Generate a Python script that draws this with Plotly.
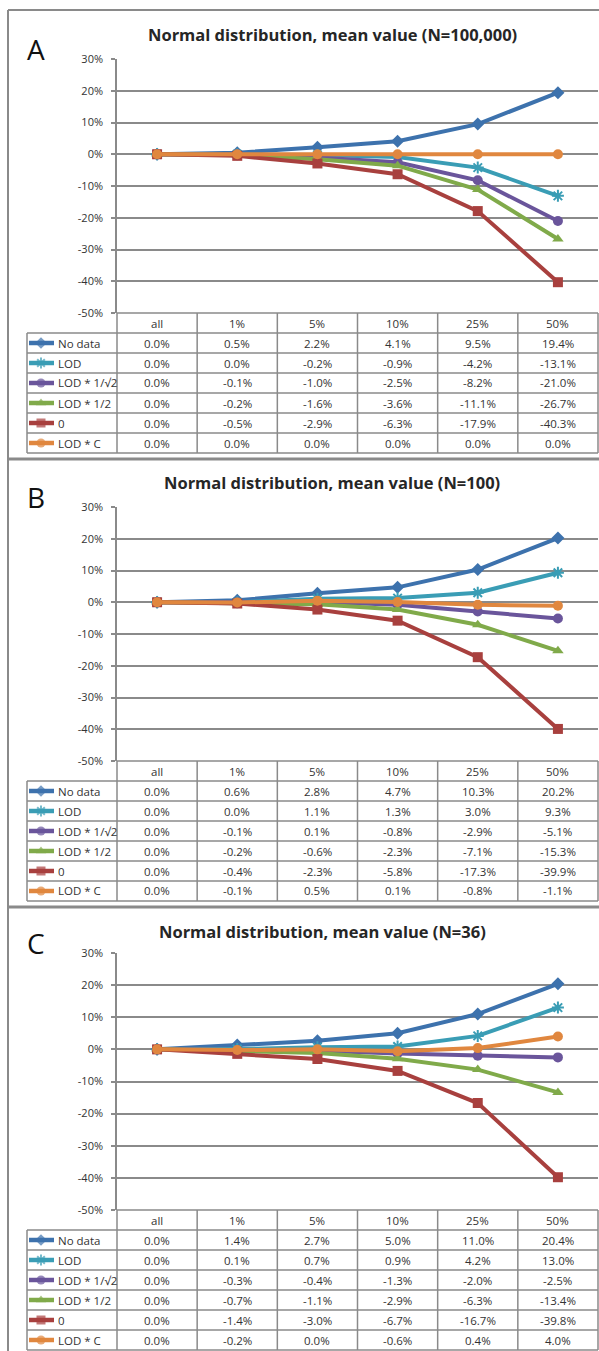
import plotly.graph_objects as go

W, H = 599, 1351

categories = ["all", "1%", "5%", "10%", "25%", "50%"]
series_names = ["No data", "LOD", "LOD * 1/\u221a2", "LOD * 1/2", "0", "LOD * C"]
panel_letters = ["A", "B", "C"]
panel_titles = [
    "Normal distribution, mean value (N=100,000)",
    "Normal distribution, mean value (N=100)",
    "Normal distribution, mean value (N=36)",
]
y_ticks = [30, 20, 10, 0, -10, -20, -30, -40, -50]

# Panel A (N=100,000)
a_no_data = [0.0, 0.5, 2.2, 4.1, 9.5, 19.4]
a_lod = [0.0, 0.0, -0.2, -0.9, -4.2, -13.1]
a_lod_sqrt2 = [0.0, -0.1, -1.0, -2.5, -8.2, -21.0]
a_lod_half = [0.0, -0.2, -1.6, -3.6, -11.1, -26.7]
a_zero = [0.0, -0.5, -2.9, -6.3, -17.9, -40.3]
a_lod_c = [0.0, 0.0, 0.0, 0.0, 0.0, 0.0]

# Panel B (N=100)
b_no_data = [0.0, 0.6, 2.8, 4.7, 10.3, 20.2]
b_lod = [0.0, 0.0, 1.1, 1.3, 3.0, 9.3]
b_lod_sqrt2 = [0.0, -0.1, 0.1, -0.8, -2.9, -5.1]
b_lod_half = [0.0, -0.2, -0.6, -2.3, -7.1, -15.3]
b_zero = [0.0, -0.4, -2.3, -5.8, -17.3, -39.9]
b_lod_c = [0.0, -0.1, 0.5, 0.1, -0.8, -1.1]

# Panel C (N=36)
c_no_data = [0.0, 1.4, 2.7, 5.0, 11.0, 20.4]
c_lod = [0.0, 0.1, 0.7, 0.9, 4.2, 13.0]
c_lod_sqrt2 = [0.0, -0.3, -0.4, -1.3, -2.0, -2.5]
c_lod_half = [0.0, -0.7, -1.1, -2.9, -6.3, -13.4]
c_zero = [0.0, -1.4, -3.0, -6.7, -16.7, -39.8]
c_lod_c = [0.0, -0.2, 0.0, -0.6, 0.4, 4.0]

panels = [
    [a_no_data, a_lod, a_lod_sqrt2, a_lod_half, a_zero, a_lod_c],
    [b_no_data, b_lod, b_lod_sqrt2, b_lod_half, b_zero, b_lod_c],
    [c_no_data, c_lod, c_lod_sqrt2, c_lod_half, c_zero, c_lod_c],
]

# styles / layout (pixels)
colors = ["#3d72ad", "#3a9db5", "#6a559b", "#80aa4a", "#a8403e", "#e0873f"]
symbols = ["diamond", "asterisk-open", "circle", "triangle-up", "square", "circle"]
msizes = [10, 10, 10, 10, 10, 10]
FONT = "Open Sans"
GRID = "#8a8a8a"
TXT = "#333333"

plot_tops = [59, 507, 953]
plot_bots = [313, 761, 1210]
title_y = [35, 483, 931]
title_x = [332, 332, 322]
X0, X1 = 117, 598
LEG0 = 27
ROW = 20


def px(x):
    return x / W


def py(y):
    return 1 - y / H


fig = go.Figure()
shapes = []
annotations = []


def note(x, y, text, size, xanchor="center", color=TXT):
    annotations.append(dict(x=px(x), y=py(y), xref="paper", yref="paper", text=text,
                            showarrow=False, xanchor=xanchor, yanchor="middle",
                            font=dict(family=FONT, size=size, color=color)))


for k in range(3):
    ax = "" if k == 0 else str(k + 1)
    top, bot = plot_tops[k], plot_bots[k]
    for i, vals in enumerate(panels[k]):
        sym = symbols[i]
        fig.add_trace(go.Scatter(
            x=categories, y=vals, mode="lines+markers",
            xaxis="x" + ax, yaxis="y" + ax,
            line=dict(color=colors[i], width=4),
            marker=dict(symbol=sym, size=msizes[i], color=colors[i],
                        line=dict(color=colors[i], width=2 if "open" in sym else 0)),
            showlegend=False, hoverinfo="skip",
        ))
    fig.layout["xaxis" + ax] = dict(
        domain=[px(X0), px(X1)], range=[-0.5, 5.5], type="category",
        categoryarray=categories, showticklabels=False, showgrid=False,
        zeroline=False, showline=False, ticks="", anchor="y" + ax, fixedrange=True,
        automargin=False,
    )
    fig.layout["yaxis" + ax] = dict(
        domain=[py(bot), py(top)], range=[-50, 30], tickvals=y_ticks,
        ticktext=[f"{v}%" for v in y_ticks], showgrid=True, gridcolor=GRID,
        gridwidth=1.5, zeroline=False, showline=True, linecolor=GRID, linewidth=1.5,
        ticks="outside", ticklen=4, tickcolor=GRID, tickwidth=1.5,
        tickfont=dict(family=FONT, size=11, color=TXT), anchor="x" + ax,
        fixedrange=True, ticklabelstandoff=6, automargin=False,
    )
    # title and letter
    note(title_x[k], title_y[k], "<b>" + panel_titles[k] + "</b>", 16.5, color="#262626")
    note(36, top - 10, panel_letters[k], 28, color="#111111")
    # table grid
    colw = (X1 - X0) / len(categories)
    hdr_top = bot
    rows_top = bot + ROW
    rows_bot = rows_top + ROW * len(series_names)
    line = dict(color=GRID, width=1.5)
    shapes.append(dict(type="line", xref="paper", yref="paper", x0=px(X0), x1=px(X1),
                       y0=py(hdr_top), y1=py(hdr_top), line=line))
    for r in range(len(series_names) + 1):
        yy = rows_top + r * ROW
        shapes.append(dict(type="line", xref="paper", yref="paper", x0=px(LEG0), x1=px(X1),
                           y0=py(yy), y1=py(yy), line=line))
    shapes.append(dict(type="line", xref="paper", yref="paper", x0=px(LEG0), x1=px(LEG0),
                       y0=py(rows_top), y1=py(rows_bot), line=line))
    for c in range(len(categories) + 1):
        xx = X0 + c * colw
        shapes.append(dict(type="line", xref="paper", yref="paper", x0=px(xx), x1=px(xx),
                           y0=py(hdr_top), y1=py(rows_bot), line=line))
    # header texts
    for c, cat in enumerate(categories):
        note(X0 + (c + 0.5) * colw, hdr_top + ROW / 2, cat, 11.5)
    # rows
    for i, vals in enumerate(panels[k]):
        yc = rows_top + (i + 0.5) * ROW
        note(56, yc, series_names[i], 11.5, xanchor="left")
        for c, v in enumerate(vals):
            note(X0 + (c + 0.5) * colw, yc, f"{v:.1f}%", 11.5)
        # legend key (pixel overlay axis)
        sym = symbols[i]
        fig.add_trace(go.Scatter(
            x=[29, 41, 54], y=[yc, yc, yc], mode="lines+markers",
            xaxis="x10", yaxis="y10",
            line=dict(color=colors[i], width=4.5),
            marker=dict(symbol=sym, size=[0, 9, 0], color=colors[i],
                        line=dict(color=colors[i], width=2 if "open" in sym else 0)),
            showlegend=False, hoverinfo="skip",
        ))

# panel frames
frame = dict(color=GRID, width=2)
shapes.append(dict(type="line", xref="paper", yref="paper", x0=px(8), x1=1,
                   y0=py(10), y1=py(10), line=frame))
shapes.append(dict(type="line", xref="paper", yref="paper", x0=px(8), x1=px(8),
                   y0=py(10), y1=0, line=frame))
for yy in [459, 907]:
    shapes.append(dict(type="line", xref="paper", yref="paper", x0=px(8), x1=1,
                       y0=py(yy), y1=py(yy), line=dict(color=GRID, width=3)))

fig.layout["xaxis10"] = dict(domain=[0, 1], range=[0, W], visible=False, fixedrange=True,
                             anchor="y10")
fig.layout["yaxis10"] = dict(domain=[0, 1], range=[H, 0], visible=False, fixedrange=True,
                             anchor="x10")

fig.update_layout(
    width=W, height=H, margin=dict(l=0, r=0, t=0, b=0, pad=0, autoexpand=False),
    paper_bgcolor="white", plot_bgcolor="rgba(0,0,0,0)",
    shapes=shapes, annotations=annotations, showlegend=False,
)

fig.write_html("out.html", config={"displayModeBar": False},
               post_script="document.body.style.margin='0';document.body.style.overflow='hidden';")
